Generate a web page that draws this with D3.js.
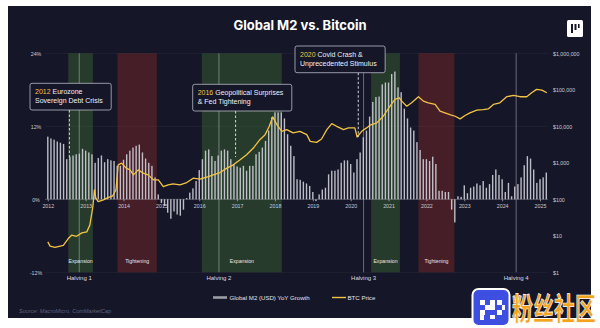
<!DOCTYPE html>
<html><head><meta charset="utf-8">
<script src="https://cdn.jsdelivr.net/npm/d3@7"></script>
<style>
body{margin:0;background:#fff;}
svg{display:block;font-family:"Liberation Sans",Arial,sans-serif;}
</style>
</head><body>
<svg id="c" width="600" height="328"></svg>
<script>
// ---------------- DATA ----------------
const m2StartYear = 2012; // monthly bars starting Jan 2012
const m2Growth = [
 10.3,10.0,9.8,9.5,9.3,9.1,6.6,7.0,7.2,7.4,7.5,8.3,
 8.0,7.7,7.4,6.0,6.8,7.2,6.1,6.6,6.4,6.3,5.5,5.5,
 6.5,7.4,8.0,8.5,8.8,9.0,7.7,6.7,6.0,5.5,3.6,0.8,
 -0.6,-1.1,-2.2,-3.2,-2.0,-2.5,-2.7,-1.7,0.2,1.1,1.8,3.0,
 4.8,6.6,8.0,8.2,7.1,6.3,7.2,8.0,8.2,8.0,6.6,5.8,
 5.4,5.2,5.5,4.7,5.5,5.5,7.4,7.8,8.5,9.6,11.3,13.5,
 14.3,14.3,14.3,13.3,10.7,8.8,7.1,3.3,3.2,2.9,2.6,2.2,
 1.2,-0.3,0.8,1.6,1.9,4.1,4.7,4.7,4.9,6.0,6.4,6.4,
 5.8,4.4,6.6,7.7,10.2,11.3,13.6,16.0,16.8,16.9,18.9,19.2,
 19.2,20.6,21.0,18.4,17.6,14.9,13.3,11.8,11.3,9.4,8.1,6.6,
 6.6,6.3,7.0,5.8,1.4,1.4,1.2,1.2,-1.7,-3.8,0.5,0.4,
 2.3,1.0,1.9,2.1,2.6,2.3,3.0,1.9,2.5,4.0,4.9,4.0,
 3.3,1.2,2.7,0.5,2.1,2.5,3.6,5.6,7.1,6.7,4.9,2.7,
 3.3,3.6,4.4
];
const btcYears = [
 2012.00,2012.06,2012.19,2012.41,2012.54,2012.63,2012.76,2012.90,2013.03,2013.11,
 2013.19,2013.23,2013.27,2013.33,2013.47,2013.60,2013.71,2013.80,2013.86,2013.95,
 2014.07,2014.17,2014.26,2014.39,2014.52,2014.65,2014.79,2014.92,2015.05,2015.18,
 2015.31,2015.49,2015.67,2015.84,2016.02,2016.24,2016.37,2016.55,2016.73,2016.90,
 2017.08,2017.25,2017.43,2017.60,2017.74,2017.85,2017.94,2018.05,2018.18,2018.31,
 2018.48,2018.66,2018.84,2018.93,2019.10,2019.23,2019.37,2019.50,2019.63,2019.81,
 2019.94,2020.11,2020.17,2020.29,2020.42,2020.51,2020.69,2020.86,2021.04,2021.17,
 2021.28,2021.35,2021.48,2021.61,2021.79,2021.92,2022.05,2022.23,2022.36,2022.49,
 2022.62,2022.76,2022.89,2023.02,2023.15,2023.33,2023.50,2023.64,2023.77,2023.94,
 2024.12,2024.30,2024.47,2024.65,2024.78,2024.91,2025.05,2025.18
];
const btcPrices = [
 6.8,5.2,4.8,5.5,8.4,10.4,9.7,12.0,12.8,19.6,
 62.5,180,107,86,96,113,123,180,881,981,
 714,641,467,641,520,467,340,340,222,248,
 264,248,287,379,356,420,467,540,714,881,
 1210,1660,2540,4300,5900,10000,18150,11140,7280,8110,
 6580,7280,5900,3860,3620,4500,8110,11860,10000,8110,
 9040,9040,5100,7280,9040,10700,12400,18850,35600,54400,
 60600,48900,35600,44100,64600,48900,44100,39600,25900,23400,
 21000,18850,16000,19700,23400,27600,28800,30100,39600,44100,
 64600,70100,64600,64600,83200,102600,98200,83200
];
const yearTicks = [2012,2013,2014,2015,2016,2017,2018,2019,2020,2021,2022,2023,2024,2025];
const leftTicks = [24,12,0,-12];
const rightTicks = [1,10,100,1000,10000,100000,1000000];
const bandKinds  = ["Expansion","Tightening","Expansion","Expansion","Tightening"];
const bandStarts = [2012.54,2013.84,2016.07,2020.54,2021.79];
const bandEnds   = [2013.19,2014.88,2018.18,2021.30,2022.74];
const halvingLabels = ["Halving 1","Halving 2","Halving 3","Halving 4"];
const halvingYears  = [2012.83,2016.52,2020.34,2024.37];
const annoYears = ["2012","2016","2020"];
const annoLine1 = [" Eurozone"," Geopolitical Surprises"," Covid Crash &"];
const annoLine2 = ["Sovereign Debt Crisis","& Fed Tightening","Unprecedented Stimulus"];
const annoAt    = [2012.57,2016.96,2020.20];
const legendLabels = ["Global M2 (USD) YoY Growth","BTC Price"];

// ---------------- LAYOUT ----------------
const svg = d3.select("#c");
const C = {bg:"#151628", green:"#263b2b", red:"#451e27", bar:"#cfcfd8", gold:"#f3c443", text:"#c9cad6"};

svg.append("rect").attr("x",0).attr("y",0).attr("width",600).attr("height",328).attr("fill","#fff");
svg.append("rect").attr("x",8).attr("y",6).attr("width",583).attr("height",312).attr("fill",C.bg);

const x = d3.scaleLinear().domain([2012,2025]).range([47.8,540]);
const yL = d3.scaleLinear().domain([-12,24]).range([272.3,53.3]);
const yR = d3.scaleLog().domain([1,1e6]).range([272.3,53.3]);

// bands
const bandG = svg.append("g");
bandKinds.forEach((k,i)=>{
  bandG.append("rect")
    .attr("x",x(bandStarts[i])).attr("width",x(bandEnds[i])-x(bandStarts[i]))
    .attr("y",yL(24)).attr("height",yL(-12)-yL(24))
    .attr("fill",k==="Expansion"?C.green:C.red);
  bandG.append("text").text(k)
    .attr("x",(x(bandStarts[i])+x(bandEnds[i]))/2).attr("y",263)
    .attr("text-anchor","middle").attr("font-size",5.2).attr("fill","#e6e6ee");
});

// grid lines
svg.append("g").selectAll("line").data(leftTicks).join("line")
  .attr("x1",45).attr("x2",548).attr("y1",d=>yL(d)).attr("y2",d=>yL(d))
  .attr("stroke","#ffffff").attr("stroke-opacity",0.07).attr("stroke-width",0.7);

// halving lines
halvingYears.forEach((h,i)=>{
  svg.append("line").attr("x1",x(h)).attr("x2",x(h)).attr("y1",yL(24)).attr("y2",yL(-12))
    .attr("stroke","#d8d8e4").attr("stroke-opacity",0.55).attr("stroke-width",0.8);
  svg.append("text").text(halvingLabels[i]).attr("x",x(h)).attr("y",279.5)
    .attr("text-anchor","middle").attr("font-size",6).attr("fill","#dcdce6");
});

// bars
svg.append("g").selectAll("rect").data(m2Growth).join("rect")
  .attr("x",(d,i)=>x(m2StartYear+i/12)-0.7).attr("width",1.4)
  .attr("y",d=>yL(Math.max(d,0))).attr("height",d=>Math.abs(yL(d)-yL(0)))
  .attr("fill",C.bar).attr("fill-opacity",0.9);

// baseline + year axis
svg.append("line").attr("x1",45).attr("x2",548).attr("y1",yL(0)).attr("y2",yL(0))
  .attr("stroke","#d0d0da").attr("stroke-opacity",0.45).attr("stroke-width",0.6);
const xAxis = d3.axisBottom(x).tickValues(yearTicks).tickFormat(d3.format("d")).tickSize(2).tickPadding(3);
const gx = svg.append("g").attr("transform",`translate(0,${yL(0)})`).call(xAxis);
gx.select(".domain").remove();
gx.selectAll("line").attr("stroke","#d0d0da").attr("stroke-opacity",0.6);
gx.selectAll("text").attr("font-size",5.3).attr("fill",C.text).attr("font-family","Liberation Sans,Arial");

// left axis
const gl = svg.append("g").attr("transform","translate(42,0)")
  .call(d3.axisLeft(yL).tickValues(leftTicks).tickFormat(d=>d+"%").tickSize(0).tickPadding(0));
gl.select(".domain").remove();
gl.selectAll("text").attr("font-size",5.3).attr("fill",C.text).attr("text-anchor","middle").attr("x",-6)
  .attr("font-family","Liberation Sans,Arial");

// right axis
const gr = svg.append("g").attr("transform","translate(553,0)")
  .call(d3.axisRight(yR).tickValues(rightTicks).tickFormat(d=>"$"+d3.format(",")(d)).tickSize(0).tickPadding(0));
gr.select(".domain").remove();
gr.selectAll("text").attr("font-size",5.3).attr("fill",C.text).attr("font-family","Liberation Sans,Arial");

// BTC line
const btc = btcYears.map((yv,i)=>[yv,btcPrices[i]]);
svg.append("path").datum(btc)
  .attr("d",d3.line().x(d=>x(d[0])).y(d=>yR(d[1])))
  .attr("fill","none").attr("stroke",C.gold).attr("stroke-width",1.3).attr("stroke-linejoin","round");

// annotations
const annoBoxTop = [83.3,84.3,46];
const annoLineEnd = [160,157,137];
const annoBoxLeft = [30,192.7,295];
annoYears.forEach((yr,i)=>{
  const g = svg.append("g");
  const xl = x(annoAt[i]);
  const boxBottom = annoBoxTop[i]+26.7;
  g.append("line").attr("x1",xl).attr("x2",xl).attr("y1",boxBottom).attr("y2",annoLineEnd[i])
    .attr("stroke","#e8e8f0").attr("stroke-width",0.9).attr("stroke-dasharray","2.5,2");
  const rect = g.append("rect");
  const t = g.append("text").attr("font-size",7).attr("fill","#f0f0f5");
  const t1 = t.append("tspan").attr("x",annoBoxLeft[i]+5).attr("y",annoBoxTop[i]+11);
  t1.append("tspan").text(yr).attr("fill",C.gold);
  t1.append("tspan").text(annoLine1[i]);
  t.append("tspan").attr("x",annoBoxLeft[i]+5).attr("y",annoBoxTop[i]+20).text(annoLine2[i]);
  const bb = t.node().getBBox();
  rect.attr("x",annoBoxLeft[i]).attr("y",annoBoxTop[i]).attr("width",bb.width+13).attr("height",26.7)
    .attr("rx",2).attr("fill",C.bg).attr("stroke","#b9bac6").attr("stroke-width",0.8);
});

// title
svg.append("text").text("Global M2 vs. Bitcoin").attr("x",300).attr("y",30)
  .attr("text-anchor","middle").attr("font-size",13).attr("font-weight","bold").attr("fill","#fff")
  .attr("font-family","Inter,'Liberation Sans',Arial");

// logo top-right
const lg = svg.append("g").attr("transform","translate(567,20)");
lg.append("rect").attr("width",16).attr("height",17).attr("rx",1.5).attr("fill","#fff");
lg.append("rect").attr("x",4).attr("y",4).attr("width",2).attr("height",9).attr("fill","#151628");
lg.append("rect").attr("x",7.5).attr("y",4).attr("width",2).attr("height",6).attr("fill","#151628");
lg.append("rect").attr("x",11).attr("y",4).attr("width",1.6).attr("height",4).attr("fill","#151628");

// legend
const leg = svg.append("g");
leg.append("rect").attr("x",213).attr("y",296.2).attr("width",14).attr("height",2.6).attr("fill","#9c9ca6");
leg.append("text").text(legendLabels[0]).attr("x",229.5).attr("y",300.3).attr("font-size",6.1).attr("fill","#e4e4ec");
leg.append("rect").attr("x",332).attr("y",296.8).attr("width",14).attr("height",1.4).attr("fill",C.gold);
leg.append("text").text(legendLabels[1]).attr("x",347.5).attr("y",300.3).attr("font-size",6.1).attr("fill","#e4e4ec");

// source
svg.append("text").text("Source: MacroMicro, CoinMarketCap").attr("x",19).attr("y",313)
  .attr("font-size",5.6).attr("font-style","italic").attr("fill","#5f627c");

// watermark
const wm = svg.append("g");
wm.append("rect").attr("x",472.5).attr("y",289).attr("width",37).attr("height",37).attr("rx",6)
  .attr("fill","#3c4fe0").attr("stroke","#fff").attr("stroke-width",2);
[[480,300,5,5],[485,305,5,5],[480,310,5,5],[490,300,5,10],[497,300,5,5],[497,310,5,5],[502,305,3,5],[480,315,4,5],[490,315,5,4]]
  .forEach(r=>wm.append("rect").attr("x",r[0]).attr("y",r[1]).attr("width",r[2]).attr("height",r[3]).attr("fill","#fff"));
wm.append("text").text("粉丝社区").attr("x",512).attr("y",320)
  .attr("font-family","'Noto Sans CJK SC'").attr("font-weight","bold").attr("font-size",21)
  .attr("fill","#f4a21c").attr("stroke","#fff").attr("stroke-width",0.5)
  .attr("transform","translate(0,320) scale(1,1.45) translate(0,-320)");
</script>
</body></html>
